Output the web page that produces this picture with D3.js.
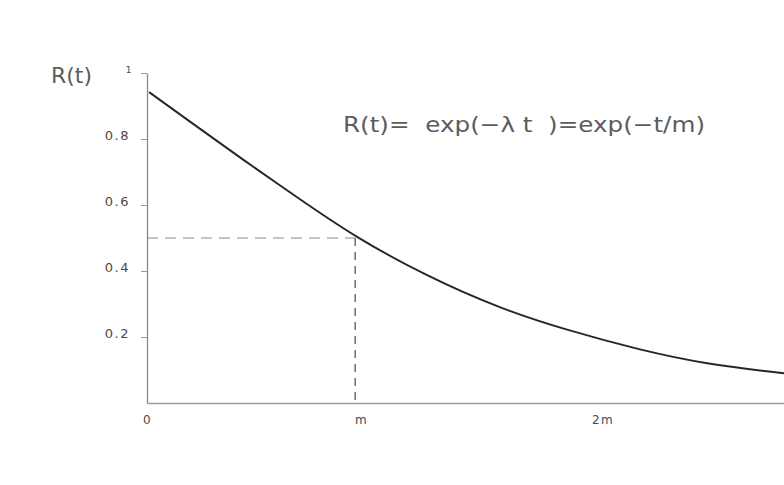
<!DOCTYPE html>
<html>
<head>
<meta charset="utf-8">
<script src="https://cdn.jsdelivr.net/npm/d3@7"></script>
<style>
  body { margin: 0; background: #fff; }
  text { font-family: "DejaVu Sans", sans-serif; fill: #4a4a4a; }
</style>
</head>
<body>
<script>
// curve (t in units of m)
const curveT = [0.01, 0.23, 0.45, 0.74, 1.0, 1.34, 1.70, 2.01, 2.37, 2.69, 3.06];
const curveR = [0.942, 0.842, 0.742, 0.615, 0.503, 0.385, 0.285, 0.222, 0.160, 0.117, 0.090];

const yTickVals = [0.2, 0.4, 0.6, 0.8, 1];
const yTickLabels = ["0.2", "0.4", "0.6", "0.8", "1"];
const xTickVals = [0, 1, 2.16];
const xTickLabels = ["0", "m", "2m"];

const markT = 1.0, markR = 0.5;   // the m / 0.5 point

let width = 784,
    height = 485;
const margin = {top: 73, right: 0, bottom: 82, left: 147};

const svg = d3.select('body').append('svg')
    .attr('width', width)
    .attr('height', height);

const x = d3.scaleLinear()
    .domain([0, 3.06])
    .range([margin.left, width - margin.right]);

const y = d3.scaleLinear()
    .domain([0, 1])
    .range([height - margin.bottom, margin.top]);

//dashed guides
svg.append('line')
    .attr('x1', x(0)).attr('x2', x(markT))
    .attr('y1', y(markR)).attr('y2', y(markR))
    .attr('stroke', '#8a8a8a').attr('stroke-width', 1)
    .attr('stroke-dasharray', '11,7');

svg.append('line')
    .attr('x1', x(markT)).attr('x2', x(markT))
    .attr('y1', y(markR)).attr('y2', y(0))
    .attr('stroke', '#555').attr('stroke-width', 1.3)
    .attr('stroke-dasharray', '8,6');

//y axis
const yAxis = svg.append('g')
    .attr('transform', `translate(${x(0)},0)`)
    .call(d3.axisLeft(y)
        .tickValues(yTickVals)
        .tickFormat((d, i) => yTickLabels[i])
        .tickSize(6)
        .tickSizeOuter(0)
        .tickPadding(11));

yAxis.select('.domain').attr('stroke', '#888').attr('stroke-width', 1.3);
yAxis.selectAll('.tick line').attr('stroke', '#999');
yAxis.selectAll('.tick text')
    .attr('dy', '0.05em')
    .style('font-size', '13px')
    .style('letter-spacing', '1.5px')
    .style('fill', '#4a4a4a')
    .style('font-family', '"DejaVu Sans", sans-serif');
yAxis.selectAll('.tick text').filter(d => d === 1)
    .attr('dy', '-0.1em')
    .attr('x', -14)
    .style('font-size', '9px');

//x axis
const xAxis = svg.append('g')
    .attr('transform', `translate(0,${y(0)})`)
    .call(d3.axisBottom(x)
        .tickValues(xTickVals)
        .tickFormat((d, i) => xTickLabels[i])
        .tickSize(0)
        .tickSizeOuter(0)
        .tickPadding(12));

xAxis.select('.domain').attr('stroke', '#999').attr('stroke-width', 1.3);
xAxis.selectAll('.tick text')
    .attr('dx', (d, i) => i === 0 ? 0 : 6)
    .style('font-size', '12px')
    .style('letter-spacing', '1.4px')
    .style('fill', '#4a4a4a')
    .style('font-family', '"DejaVu Sans", sans-serif');

//the curve
const curve = d3.line()
    .x((d, i) => x(curveT[i]))
    .y(d => y(d))
    .curve(d3.curveBasis);

svg.append('path')
    .datum(curveR)
    .attr('d', curve)
    .attr('fill', 'none')
    .attr('stroke', '#262626')
    .attr('stroke-width', 1.9);

//labels
svg.append('text')
    .attr('x', 51)
    .attr('y', 83)
    .attr('textLength', 41)
    .attr('lengthAdjust', 'spacingAndGlyphs')
    .style('font-size', '21px')
    .style('fill', '#5c5c5c')
    .text('R(t)');

svg.append('text')
    .attr('x', 343)
    .attr('y', 132)
    .attr('textLength', 362)
    .attr('lengthAdjust', 'spacingAndGlyphs')
    .style('white-space', 'pre')
    .style('font-size', '21px')
    .style('fill', '#5c5c5c')
    .text('R(t)=  exp(\u2212\u03bb t  )=exp(\u2212t/m)');
</script>
</body>
</html>
